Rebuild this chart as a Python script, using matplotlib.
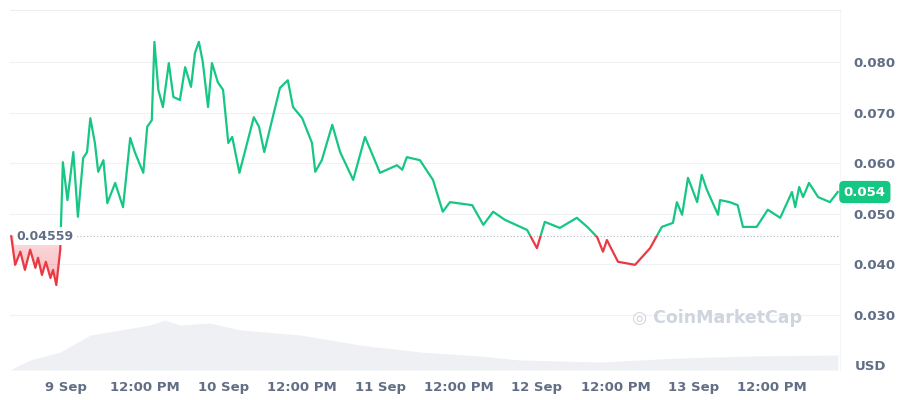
import numpy as np
import matplotlib
matplotlib.use('Agg')
import matplotlib.pyplot as plt
from matplotlib.patches import Rectangle
from matplotlib.colors import to_rgb

# hours since 9 Sep 00:00
hours = [-8.4, -7.8, -7.0, -6.3, -5.5, -4.7, -4.3, -3.7, -3.1, -2.4, -2.0, -1.5, -0.9,
         -0.5, 0.2, 1.1, 1.8, 2.6, 3.2, 3.7, 4.4, 4.9, 5.7, 6.3, 7.5, 8.7, 9.8, 10.5,
         11.8, 12.4, 13.1, 13.5, 14.1, 14.8, 15.7, 16.4, 17.4, 18.2, 19.1, 19.7, 20.3,
         20.9, 21.7, 22.3, 23.2, 24.0, 24.8, 25.4, 26.5, 27.4, 28.7, 29.5, 30.3, 31.2,
         32.7, 33.9, 34.7, 36.1, 37.6, 38.1, 39.1, 40.7, 41.9, 43.9, 45.7, 48.0, 50.6,
         51.4, 52.1, 54.1, 56.1, 57.6, 58.7, 62.1, 63.8, 65.3, 67.1, 70.5, 72.0, 73.2,
         75.5, 78.1, 79.7, 81.2, 82.1, 82.7, 84.4, 87.0, 89.3, 91.1, 92.8, 93.4, 94.2,
         95.1, 96.5, 97.2, 98.0, 99.7, 100.0, 101.5, 102.7, 103.5, 105.6, 107.3, 109.2,
         111.0, 111.5, 112.1, 112.7, 113.6, 115.0, 116.8, 118.0]
price = [0.0456, 0.0399, 0.0425, 0.0389, 0.0429, 0.0393, 0.0413, 0.0379, 0.0405, 0.0373,
         0.0389, 0.0359, 0.0429, 0.0602, 0.0527, 0.0622, 0.0494, 0.0610, 0.0622, 0.0689,
         0.0640, 0.0583, 0.0606, 0.0521, 0.0561, 0.0513, 0.0650, 0.0622, 0.0581, 0.0672,
         0.0685, 0.0840, 0.0745, 0.0711, 0.0798, 0.0731, 0.0725, 0.0790, 0.0751, 0.0818,
         0.0840, 0.0800, 0.0711, 0.0798, 0.0760, 0.0745, 0.0640, 0.0652, 0.0581, 0.0626,
         0.0691, 0.0672, 0.0622, 0.0670, 0.0749, 0.0764, 0.0711, 0.0689, 0.0640, 0.0583,
         0.0606, 0.0676, 0.0622, 0.0567, 0.0652, 0.0581, 0.0596, 0.0587, 0.0612, 0.0606,
         0.0567, 0.0504, 0.0523, 0.0517, 0.0478, 0.0504, 0.0488, 0.0468, 0.0432, 0.0484,
         0.0472, 0.0492, 0.0474, 0.0454, 0.0425, 0.0448, 0.0405, 0.0399, 0.0432, 0.0474,
         0.0482, 0.0523, 0.0498, 0.0571, 0.0523, 0.0577, 0.0547, 0.0498, 0.0527, 0.0523,
         0.0517, 0.0474, 0.0474, 0.0508, 0.0492, 0.0543, 0.0513, 0.0553, 0.0533, 0.0561,
         0.0533, 0.0523, 0.0543]

vol_hours = [-8.6, -5.5, -0.9, 3.7, 8.3, 12.8, 15.1, 17.4, 22.0, 26.6, 35.8, 44.9,
             54.1, 63.3, 69.4, 81.6, 93.9, 104.6, 118.0]
volume = [0, 10, 18, 35, 40, 45, 50, 45, 47, 40, 35, 25, 18, 14, 10, 8, 12, 14, 15]

baseline = 0.04559
last_price = '0.054'
y_ticks = [0.030, 0.040, 0.050, 0.060, 0.070, 0.080]
x_ticks = [0, 12, 24, 36, 48, 60, 72, 84, 96, 108]
x_labels = ['9 Sep', '12:00 PM', '10 Sep', '12:00 PM', '11 Sep', '12:00 PM',
            '12 Sep', '12:00 PM', '13 Sep', '12:00 PM']

GREEN = '#16c784'
RED = '#ea3943'
GRAY = '#616e85'
XMIN, XMAX = -8.6, 118.3
YMIN, YMAX = 0.0191, 0.0903

fig = plt.figure(figsize=(9, 4), dpi=100)
ax = fig.add_axes([0.011, 0.075, 0.922, 0.9])
ax.set_xlim(XMIN, XMAX)
ax.set_ylim(YMIN, YMAX)

# volume in the background
vax = ax.twinx()
vax.set_ylim(0, 360)
vax.fill_between(vol_hours, volume, color='#eef0f3', lw=0, zorder=0)
vax.axis('off')
ax.set_zorder(vax.get_zorder() + 1)
ax.patch.set_visible(False)

h = np.array(hours)
p = np.array(price)


def gradient_fill(where, color, y0, y1, a0, a1):
    # gradient image clipped to the filled area
    poly = ax.fill_between(h, p, baseline, where=where, interpolate=True,
                           color='none', lw=0)
    rgb = to_rgb(color)
    img = np.zeros((100, 1, 4))
    img[:, 0, :3] = rgb
    img[:, 0, 3] = np.linspace(a0, a1, 100)
    im = ax.imshow(img, extent=[XMIN, XMAX, y0, y1], origin='lower',
                   aspect='auto', zorder=1)
    im.set_clip_path(poly.get_paths()[0], transform=ax.transData)


gradient_fill(p >= baseline, GREEN, baseline, 0.084, 0.06, 0.28)
gradient_fill(p <= baseline, RED, 0.0359, baseline, 0.35, 0.18)
ax.set_xlim(XMIN, XMAX)
ax.set_ylim(YMIN, YMAX)

for color, y0, y1 in [(GREEN, baseline, YMAX), (RED, YMIN, baseline)]:
    line, = ax.plot(h, p, color=color, lw=1.6, zorder=3)
    clip = Rectangle((XMIN, y0), XMAX - XMIN, y1 - y0, transform=ax.transData)
    line.set_clip_path(clip)

ax.axhline(baseline, color='#b0b6c0', lw=0.8, ls=(0, (1, 2)), zorder=2)

for t in y_ticks:
    ax.axhline(t, color='#f0f1f4', lw=0.8, zorder=0)

ax.yaxis.tick_right()
ax.set_yticks(y_ticks)
ax.set_yticklabels([f'{t:.3f}' for t in y_ticks], color=GRAY, fontsize=9.5,
                   fontweight='bold')
ax.set_xticks(x_ticks)
ax.set_xticklabels(x_labels, color=GRAY, fontsize=9.5, fontweight='bold')
ax.tick_params(length=0, pad=8)
ax.tick_params(axis='y', pad=10)
for s in ['left', 'bottom']:
    ax.spines[s].set_visible(False)
ax.spines['top'].set_color('#eceef2')
ax.spines['right'].set_color('#f4f5f7')

ax.text(XMIN + 1.0, baseline, '%.5f' % baseline, color=GRAY, fontsize=9,
        fontweight='bold', va='center', ha='left', zorder=4,
        bbox=dict(boxstyle='round,pad=0.2', fc='white', ec='none'))
ax.text(1.005, 0.0543, last_price, transform=ax.get_yaxis_transform(),
        color='white', fontsize=9.5, fontweight='bold', va='center', ha='left',
        bbox=dict(boxstyle='round,pad=0.35', fc=GREEN, ec='none'))
fig.text(0.985, 0.085, 'USD', color=GRAY, fontsize=9.5, fontweight='bold',
         ha='right', va='center')
ax.text(0.955, 0.145, '◎ CoinMarketCap', transform=ax.transAxes,
        color='#cfd5df', fontsize=12.5, fontweight='bold', ha='right', va='center')

fig.savefig('out.png', dpi=100)
